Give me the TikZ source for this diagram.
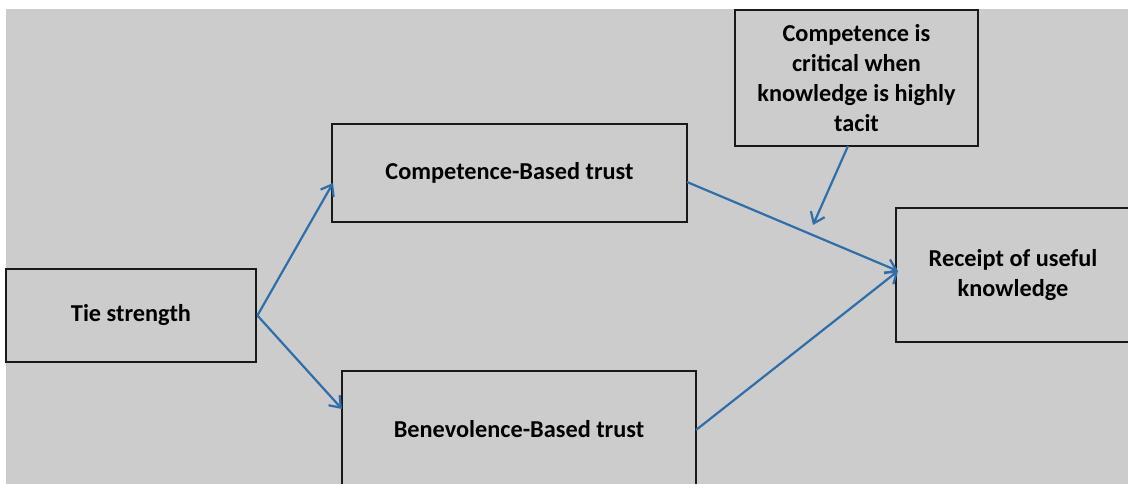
\documentclass[tikz,border=0pt]{standalone}
\usepackage{fontspec}
\setmainfont{Carlito}
\usetikzlibrary{arrows.meta}
\definecolor{panelgray}{RGB}{204,204,204}
\definecolor{linkblue}{RGB}{48,110,170}
\tikzset{
  box/.style={draw=black!90, line width=2.8pt, align=center,
    font=\fontsize{24.3}{30}\selectfont\bfseries, inner sep=0pt},
  link/.style={draw=linkblue, line width=2.2pt,
    -{Straight Barb[length=10pt,width=15pt,line width=2.2pt]}}
}
\begin{document}
\begin{tikzpicture}[x=1pt,y=-1pt]
  \useasboundingbox (0,0) rectangle (1128,484);
  % grey panel behind the diagram
  \fill[panelgray] (6,9) rectangle (1128,484);

  \node[box, minimum width=250pt, minimum height=93pt] (tie) at (131,315.5) {Tie strength};
  \node[box, minimum width=355pt, minimum height=98pt] (comp) at (509.5,173) {Competence-Based trust};
  \node[box, minimum width=354pt, minimum height=116pt] (bene) at (519,429) {Benevolence-Based trust};
  \node[box, minimum width=243pt, minimum height=136pt] (note) at (856.5,78)
    {Competence is\\critical when\\knowledge is highly\\tacit};
  \node[box, minimum width=234pt, minimum height=134pt] (rec) at (1013,275)
    {Receipt of useful\\knowledge};

  % attachment points on the box sides
  \coordinate (compin) at (333,183);
  \coordinate (benein) at (342,409);
  \coordinate (compout) at (687,182);
  \coordinate (beneout) at (696,430);
  \coordinate (recin) at (898,271);
  \coordinate (noteout) at (848,146);
  \coordinate (modtip) at (813,225);

  \draw[link] (tie.east) -- (compin);
  \draw[link] (tie.east) -- (benein);
  \draw[link] (compout) -- (recin);
  \draw[link] (beneout) -- (recin);
  \draw[link] (noteout) -- (modtip);
\end{tikzpicture}
\end{document}
